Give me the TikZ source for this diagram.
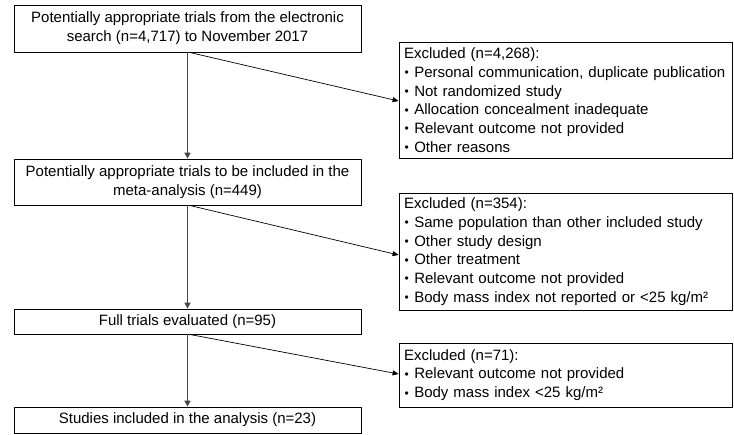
\documentclass[tikz,border=0pt]{standalone}
\usepackage{fontspec}
\setmainfont{Liberation Sans}
\usetikzlibrary{arrows.meta}
\newcommand{\blt}{\makebox[0.35em]{\raisebox{0.5pt}{\fontsize{12}{0}\selectfont•}}}
\begin{document}
\begin{tikzpicture}[x=1pt,y=1pt,
  box/.style={draw=black, line width=0.8pt, inner sep=0pt, font=\fontsize{15}{19}\selectfont, align=center, minimum width=347pt},
  exbox/.style={draw=black, line width=0.8pt, inner xsep=5pt, inner ysep=0pt, font=\fontsize{15}{18.7}\selectfont, align=left, text width=323pt},
  vline/.style={draw={rgb,255:red,70;green,70;blue,70}, line width=1.7pt, -{Triangle[length=6pt,width=6pt]}},
  dline/.style={draw=black, line width=0.7pt, -{Triangle[length=6pt,width=5pt]}}
]
\useasboundingbox (0,0) rectangle (734,-434);
\node[box, minimum height=47pt] (b1) at (187.5,-28.5) {Potentially appropriate trials from the electronic\\search (n=4,717) to November 2017};
\node[box, minimum height=46pt] (b2) at (187.5,-182) {Potentially appropriate trials to be included in the\\meta-analysis (n=449)};
\node[box, minimum height=25pt] (b3) at (187.5,-321.5) {Full trials evaluated (n=95)};
\node[box, minimum height=26pt] (b4) at (187.5,-420) {Studies included in the analysis (n=23)};
\node[exbox, minimum height=116pt] (e1) at (565.5,-100) {Excluded (n=4,268):\\\blt{} Personal communication, duplicate publication\\\blt{} Not randomized study\\\blt{} Allocation concealment inadequate\\\blt{} Relevant outcome not provided\\\blt{} Other reasons};
\node[exbox, minimum height=117pt] (e2) at (565.5,-251.5) {Excluded (n=354):\\\blt{} Same population than other included study\\\blt{} Other study design\\\blt{} Other treatment\\\blt{} Relevant outcome not provided\\\blt{} Body mass index not reported or <25 kg/m²};
\node[exbox, minimum height=64pt] (e3) at (565.5,-375) {Excluded (n=71):\\\blt{} Relevant outcome not provided\\\blt{} Body mass index <25 kg/m²};
\draw[vline] (b1.south) -- (b2.north);
\draw[vline] (b2.south) -- (b3.north);
\draw[vline] (b3.south) -- (b4.north);
\draw[dline] ([xshift=2pt]b1.south) -- ([yshift=-1pt]e1.west);
\draw[dline] ([xshift=2pt]b2.south) -- ([yshift=-3.5pt]e2.west);
\draw[dline] ([xshift=2pt]b3.south) -- ([yshift=1pt]e3.west);
\end{tikzpicture}
\end{document}
